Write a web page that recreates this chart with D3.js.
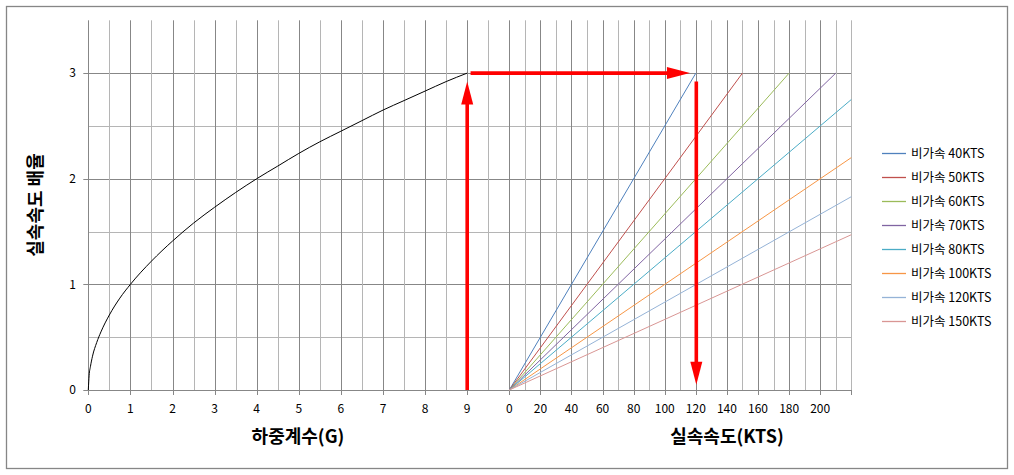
<!DOCTYPE html>
<html><head><meta charset="utf-8">
<script src="https://cdn.jsdelivr.net/npm/d3@7"></script>
<style>
html,body{margin:0;padding:0;background:#fff;}
svg{display:block;}
text{font-family:"Noto Sans CJK KR","DejaVu Sans",sans-serif;}
</style></head>
<body>
<script>
// ---- data ----
const loadFactor = [0, 0.02, 0.05, 0.1, 0.2, 0.3, 0.5, 0.75, 1, 1.5, 2, 2.5, 3, 3.5, 4, 4.5, 5, 5.5, 6, 6.5, 7, 7.5, 8, 8.5, 9];
const stallRatio = [0, 0.14, 0.22, 0.32, 0.45, 0.55, 0.71, 0.87, 1, 1.22, 1.41, 1.58, 1.73, 1.87, 2, 2.12, 2.24, 2.35, 2.45, 2.55, 2.65, 2.74, 2.83, 2.92, 3];
const seriesNames = ["비가속 40KTS","비가속 50KTS","비가속 60KTS","비가속 70KTS","비가속 80KTS","비가속 100KTS","비가속 120KTS","비가속 150KTS"];
const seriesEndKts = [120, 150, 180, 210, 220, 220, 220, 220];
const seriesEndRatio = [3, 3, 3, 3, 2.75, 2.2, 1.83, 1.47];
const seriesColors = ["#4F81BD","#C0504D","#9BBB59","#8064A2","#4BACC6","#F79646","#95B3D7","#D99694"];
const gTickLabels = ["0","1","2","3","4","5","6","7","8","9"];
const ktsTickLabels = ["0","20","40","60","80","100","120","140","160","180","200"];
const yTickLabels = ["0","1","2","3"];
// arrows (data units): axis 'g' = load factor, 'k' = knots
const arrowFrom = [{ax:"g",x:9,y:0},{ax:"g",x:9.08,y:3},{ax:"k",x:120.3,y:2.92}];
const arrowTo   = [{ax:"g",x:9,y:2.92},{ax:"k",x:116.2,y:3},{ax:"k",x:120.3,y:0.05}];

// ---- layout ----
const W = 1014, H = 475;
const svg = d3.select("body").append("svg").attr("width", W).attr("height", H);
svg.append("rect").attr("x",0).attr("y",0).attr("width",W).attr("height",H).attr("fill","#fff");
svg.append("rect").attr("x",6.5).attr("y",6.5).attr("width",1001).attr("height",462)
  .attr("fill","none").attr("stroke","#868686").attr("stroke-width",1.3);

const y = d3.scaleLinear().domain([0,3.5]).range([390,20.3]);
const xg = d3.scaleLinear().domain([0,10]).range([88.3,509.3]);
const xk = d3.scaleLinear().domain([0,220]).range([509.3,851.3]);
const px = p => p.ax === "g" ? xg(p.x) : xk(p.x);

const dark = "#878787", light = "#b5b5b5";
const grid = svg.append("g");
// horizontal gridlines
d3.range(0.5, 3.01, 0.5).forEach(v => {
  grid.append("line").attr("x1",xg(0)).attr("x2",xk(220))
    .attr("y1",Math.round(y(v))+0.5).attr("y2",Math.round(y(v))+0.5)
    .attr("stroke", Number.isInteger(v) ? dark : light).attr("stroke-width",1);
});
// vertical gridlines - load factor section
d3.range(0.5, 9.51, 0.5).forEach(v => {
  grid.append("line").attr("x1",Math.round(xg(v))+0.5).attr("x2",Math.round(xg(v))+0.5)
    .attr("y1",y(0)).attr("y2",y(3.5))
    .attr("stroke", Number.isInteger(v) ? dark : light).attr("stroke-width",1);
});
// vertical gridlines - knots section
d3.range(0, 220.1, 10).forEach(v => {
  grid.append("line").attr("x1",Math.round(xk(v))+0.5).attr("x2",Math.round(xk(v))+0.5)
    .attr("y1",y(0)).attr("y2",y(3.5))
    .attr("stroke", (v % 20 === 0 && v < 220) ? dark : light).attr("stroke-width",1);
});
// axes lines
grid.append("line").attr("x1",Math.round(xg(0))+0.5).attr("x2",Math.round(xg(0))+0.5)
  .attr("y1",y(0)).attr("y2",y(3.5)).attr("stroke",dark);
grid.append("line").attr("x1",xg(0)).attr("x2",xk(220))
  .attr("y1",Math.round(y(0))+0.5).attr("y2",Math.round(y(0))+0.5).attr("stroke",dark);

// x ticks
const xTickPos = gTickLabels.map((t,i)=>xg(+t)).concat(ktsTickLabels.map(t=>xk(+t))).concat([xk(220)]);
xTickPos.forEach(p => {
  grid.append("line").attr("x1",Math.round(p)+0.5).attr("x2",Math.round(p)+0.5)
    .attr("y1",y(0)).attr("y2",y(0)+5).attr("stroke",dark);
});
// y ticks
yTickLabels.forEach(t => {
  grid.append("line").attr("x1",xg(0)-5).attr("x2",xg(0))
    .attr("y1",Math.round(y(+t))+0.5).attr("y2",Math.round(y(+t))+0.5).attr("stroke",dark);
});

// tick labels
const lbl = svg.append("g").attr("font-size","12px").attr("fill","#000");
gTickLabels.forEach(t => {
  lbl.append("text").attr("x",xg(+t)).attr("y",412.5).attr("text-anchor","middle").text(t);
});
ktsTickLabels.forEach(t => {
  lbl.append("text").attr("x",xk(+t)).attr("y",412.5).attr("text-anchor","middle").text(t);
});
yTickLabels.forEach(t => {
  lbl.append("text").attr("x",76).attr("y",y(+t)+4.2).attr("text-anchor","end").text(t);
});

// axis titles
svg.append("text").attr("x",298).attr("y",443).attr("text-anchor","middle")
  .attr("font-size","18px").attr("font-weight","bold").text("하중계수(G)");
svg.append("text").attr("x",727).attr("y",443).attr("text-anchor","middle")
  .attr("font-size","18px").attr("font-weight","bold").text("실속속도(KTS)");
svg.append("text").attr("transform","translate(42,205) rotate(-90)").attr("text-anchor","middle")
  .attr("font-size","18px").attr("font-weight","bold").text("실속속도 배율");

// curve
const curveData = loadFactor.map((g,i)=>[g, stallRatio[i]]);
svg.append("path").datum(curveData)
  .attr("d", d3.line().x(d=>xg(d[0])).y(d=>y(d[1])).curve(d3.curveMonotoneX))
  .attr("fill","none").attr("stroke","#000").attr("stroke-width",1);

// stall speed lines
seriesNames.forEach((n,i) => {
  const pts = [[0,0],[seriesEndKts[i], seriesEndRatio[i]]];
  svg.append("path").datum(pts)
    .attr("d", d3.line().x(d=>xk(d[0])).y(d=>y(d[1])))
    .attr("fill","none").attr("stroke",seriesColors[i]).attr("stroke-width",1);
});

// arrows
const red = "#FF0000";
const headLen = 23, headHalf = 6;
arrowFrom.forEach((a,i) => {
  const b = arrowTo[i];
  const x1 = px(a), y1 = y(a.y), x2 = px(b), y2 = y(b.y);
  const dx = x2-x1, dy = y2-y1, L = Math.hypot(dx,dy);
  const ux = dx/L, uy = dy/L;
  const bx = x2-ux*headLen, by = y2-uy*headLen;
  svg.append("line").attr("x1",x1).attr("y1",y1).attr("x2",bx+ux*1).attr("y2",by+uy*1)
    .attr("stroke",red).attr("stroke-width",3.6);
  svg.append("polygon")
    .attr("points",[[x2,y2],[bx-uy*headHalf,by+ux*headHalf],[bx+uy*headHalf,by-ux*headHalf]].map(p=>p.join(",")).join(" "))
    .attr("fill",red);
});

// legend
const leg = svg.append("g");
seriesNames.forEach((n,i) => {
  const ly = 153.5 + i*24;
  leg.append("line").attr("x1",882).attr("x2",906).attr("y1",ly).attr("y2",ly)
    .attr("stroke",seriesColors[i]).attr("stroke-width",1.3);
  leg.append("text").attr("x",911).attr("y",ly+4.5).attr("font-size","12.5px").attr("fill","#000").text(n);
});
</script>
</body></html>
